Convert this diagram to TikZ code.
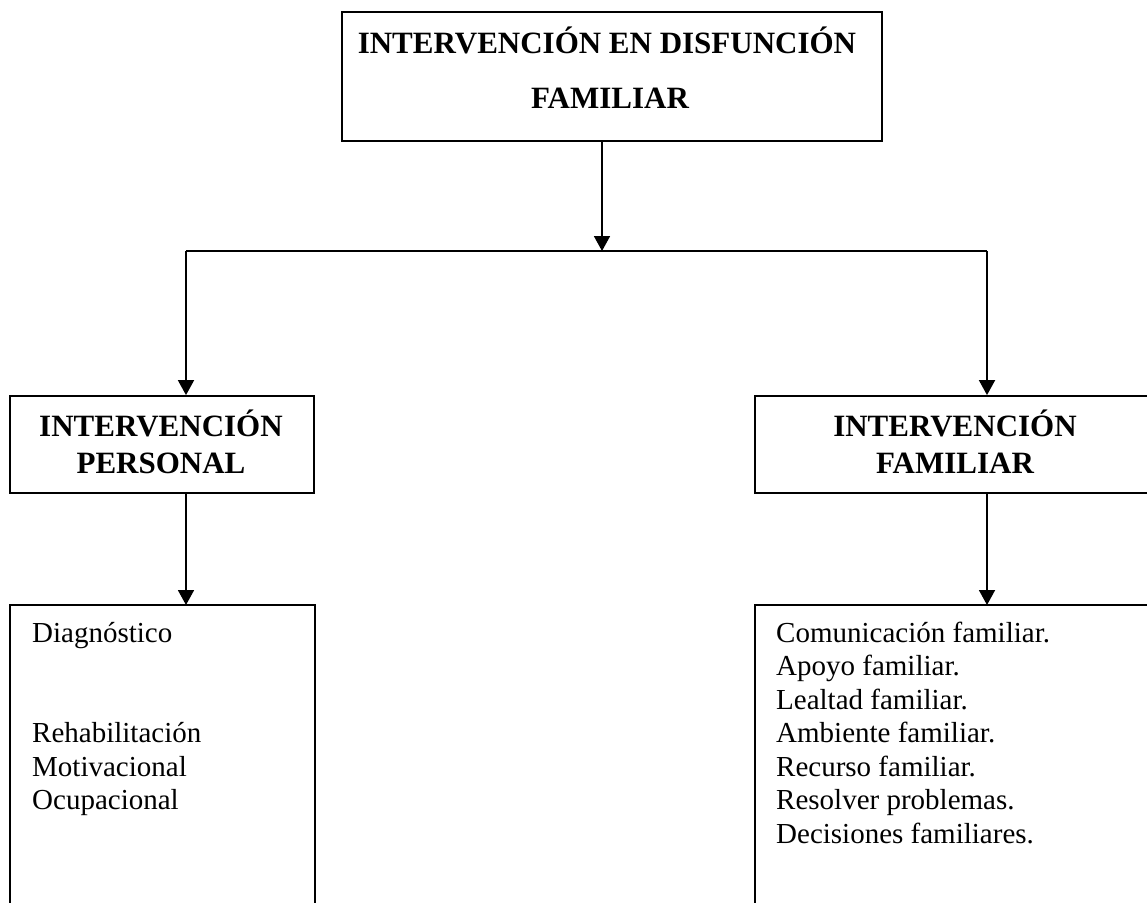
\documentclass[tikz,border=0pt]{standalone}
\usepackage{fontspec}
\setmainfont{Liberation Serif}
\usetikzlibrary{arrows.meta,calc}

\tikzset{
  caja/.style={draw, line width=1.8pt, inner sep=0pt},
  flecha/.style={line width=1.8pt, -{Triangle[length=15pt,width=16pt]}},
  linea/.style={line width=1.8pt},
  titulo/.style={anchor=base, inner sep=0pt, font=\fontsize{31}{37}\selectfont\bfseries},
  item/.style={anchor=base west, inner sep=0pt, font=\fontsize{29}{33.5}\selectfont}
}

\begin{document}
\begin{tikzpicture}[x=1pt,y=-1pt]
\useasboundingbox (0,0) rectangle (1147,902);
\clip (0,0) rectangle (1147,902);

% cajas
\node[caja, minimum width=540pt, minimum height=129pt] (raiz) at (612,76.5) {};
\node[caja, minimum width=304pt, minimum height=97pt] (personal) at (162,444.5) {};
\node[caja, minimum width=400pt, minimum height=97pt] (familiar) at (955,444.5) {};

\coordinate (rama)  at (602,251);
\coordinate (ramaI) at (186,251);
\coordinate (ramaD) at (987,251);
\coordinate (listaI) at (186,605);
\coordinate (listaD) at (987,605);

% cajas abiertas de abajo
\draw[linea] (10,910) -- (10,605) -- (315,605) -- (315,910);
\draw[linea] (755,910) -- (755,605) -- (1160,605);

% flechas
\draw[flecha] (raiz.south -| rama) -- (rama);
\draw[linea] (ramaI) -- (ramaD);
\draw[flecha] (ramaI) -- (ramaI |- personal.north);
\draw[flecha] (ramaD) -- (ramaD |- familiar.north);
\draw[flecha] (ramaI |- personal.south) -- (listaI);
\draw[flecha] (ramaD |- familiar.south) -- (listaD);

% textos
\node[titulo] (raiz1) at (607,53) {INTERVENCIÓN EN DISFUNCIÓN};
\node[titulo] (raiz2) at (610,108) {FAMILIAR};
\node[titulo] (per1) at (161,436) {INTERVENCIÓN};
\node[titulo] (per2) at (161,473) {PERSONAL};
\node[titulo] (fam1) at (955,436) {INTERVENCIÓN};
\node[titulo] (fam2) at (955,473) {FAMILIAR};

\node[item] (diag) at (32,642) {Diagnóstico};
\foreach \t [count=\i from 3] in {Rehabilitación,Motivacional,Ocupacional}
  \node[item] (pers\i) at (32,{642+33.5*\i}) {\t};

\foreach \t [count=\i from 0] in {Comunicación familiar.,Apoyo familiar.,%
    Lealtad familiar.,Ambiente familiar.,Recurso familiar.,%
    Resolver problemas.,Decisiones familiares.}
  \node[item] (fam\i) at (776,{642+33.5*\i}) {\t};
\end{tikzpicture}
\end{document}
